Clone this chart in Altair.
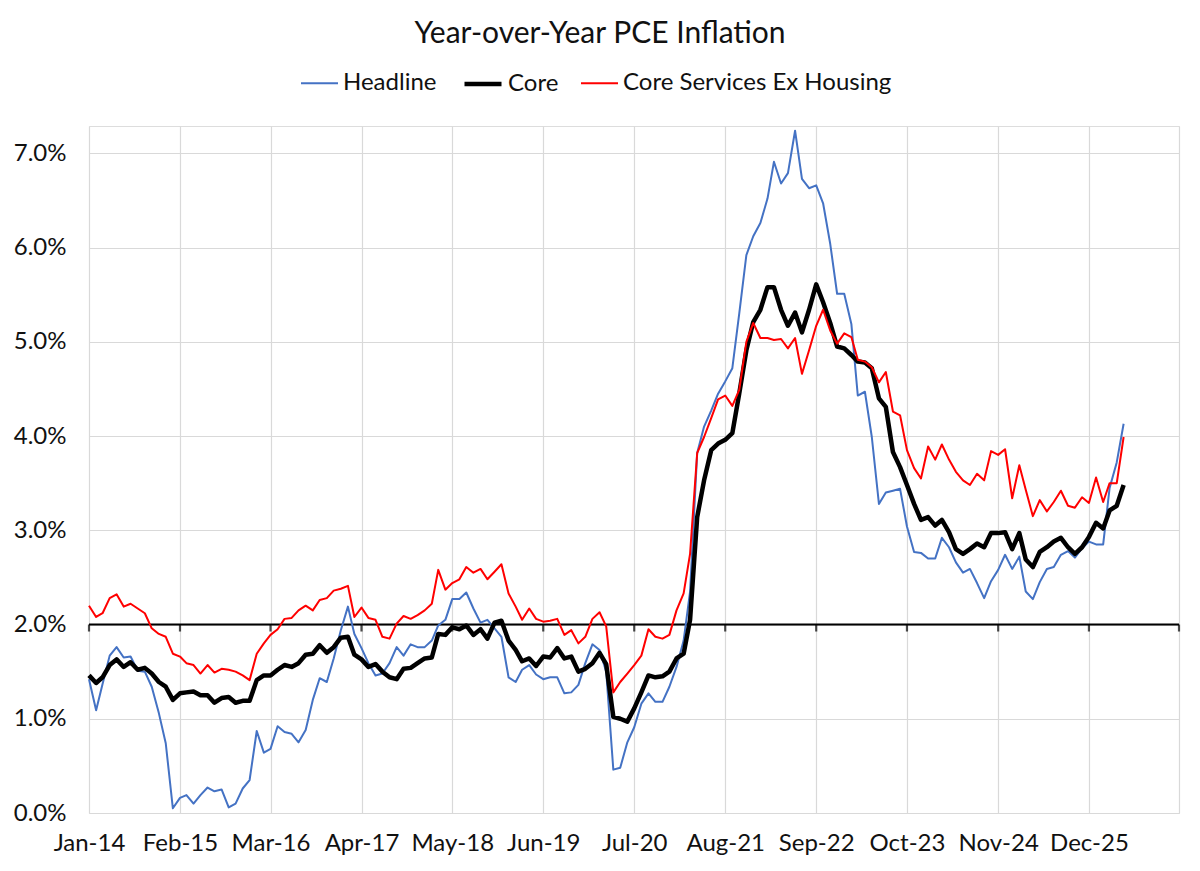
import altair as alt
import pandas as pd

# ---------------- data (percent, monthly from Jan-2014) ----------------
start_month = "2014-01-01"

headline = [
    1.42, 1.09, 1.37, 1.67, 1.76, 1.65, 1.66, 1.51, 1.50, 1.34,
    1.06, 0.74, 0.05, 0.16, 0.19, 0.10, 0.19, 0.27, 0.23, 0.25,
    0.06, 0.10, 0.26, 0.35, 0.87, 0.64, 0.68, 0.92, 0.86, 0.84,
    0.75, 0.88, 1.20, 1.43, 1.39, 1.64, 1.94, 2.19, 1.90, 1.75,
    1.59, 1.46, 1.48, 1.59, 1.76, 1.67, 1.79, 1.76, 1.76, 1.83,
    1.99, 2.05, 2.27, 2.27, 2.34, 2.17, 2.02, 2.05, 1.96, 1.87,
    1.44, 1.39, 1.52, 1.57, 1.47, 1.42, 1.44, 1.44, 1.27, 1.28,
    1.36, 1.59, 1.79, 1.73, 1.50, 0.46, 0.48, 0.75, 0.91, 1.16,
    1.27, 1.18, 1.18, 1.34, 1.55, 1.83, 2.35, 3.82, 4.10, 4.27,
    4.45, 4.58, 4.72, 5.30, 5.92, 6.12, 6.26, 6.52, 6.91, 6.68,
    6.79, 7.24, 6.73, 6.63, 6.66, 6.47, 6.04, 5.51, 5.51, 5.19,
    4.43, 4.47, 3.99, 3.28, 3.40, 3.42, 3.44, 3.04, 2.77, 2.76,
    2.70, 2.70, 2.92, 2.82, 2.66, 2.55, 2.59, 2.44, 2.28, 2.46,
    2.58, 2.74, 2.59, 2.72, 2.35, 2.27, 2.45, 2.59, 2.61, 2.74,
    2.78, 2.71, 2.81, 2.88, 2.85, 2.85, 3.45, 3.72, 4.13,
]

core = [
    1.46, 1.38, 1.44, 1.57, 1.63, 1.55, 1.60, 1.52, 1.54, 1.48,
    1.39, 1.34, 1.20, 1.27, 1.28, 1.29, 1.25, 1.25, 1.17, 1.22,
    1.23, 1.17, 1.19, 1.19, 1.41, 1.46, 1.46, 1.52, 1.57, 1.55,
    1.59, 1.68, 1.69, 1.78, 1.70, 1.76, 1.86, 1.87, 1.68, 1.63,
    1.55, 1.58, 1.50, 1.44, 1.42, 1.53, 1.54, 1.59, 1.64, 1.65,
    1.90, 1.89, 1.97, 1.95, 1.99, 1.89, 1.95, 1.85, 2.02, 2.04,
    1.83, 1.73, 1.61, 1.64, 1.56, 1.66, 1.65, 1.75, 1.64, 1.66,
    1.50, 1.53, 1.59, 1.70, 1.58, 1.02, 1.00, 0.97, 1.11, 1.28,
    1.46, 1.44, 1.45, 1.50, 1.64, 1.69, 2.05, 3.14, 3.53, 3.85,
    3.92, 3.96, 4.03, 4.45, 4.91, 5.21, 5.34, 5.58, 5.58, 5.34,
    5.17, 5.31, 5.10, 5.34, 5.61, 5.42, 5.20, 4.95, 4.93, 4.86,
    4.79, 4.78, 4.72, 4.40, 4.31, 3.83, 3.67, 3.48, 3.28, 3.11,
    3.14, 3.05, 3.11, 2.98, 2.80, 2.75, 2.80, 2.86, 2.82, 2.97,
    2.97, 2.98, 2.80, 2.97, 2.69, 2.61, 2.77, 2.82, 2.88, 2.92,
    2.82, 2.75, 2.82, 2.93, 3.08, 3.02, 3.21, 3.26, 3.48,
]

core_services_ex_housing = [
    2.20, 2.08, 2.12, 2.28, 2.32, 2.19, 2.22, 2.17, 2.12, 1.96,
    1.90, 1.87, 1.69, 1.66, 1.59, 1.57, 1.48, 1.57, 1.49, 1.53,
    1.52, 1.50, 1.46, 1.41, 1.69, 1.80, 1.89, 1.95, 2.06, 2.07,
    2.15, 2.20, 2.15, 2.26, 2.28, 2.36, 2.38, 2.41, 2.08, 2.18,
    2.07, 2.05, 1.87, 1.85, 2.01, 2.09, 2.06, 2.10, 2.15, 2.22,
    2.58, 2.37, 2.44, 2.48, 2.61, 2.55, 2.59, 2.48, 2.56, 2.64,
    2.33, 2.19, 2.05, 2.17, 2.06, 2.03, 2.04, 2.06, 1.89, 1.94,
    1.80, 1.87, 2.06, 2.13, 1.98, 1.28, 1.39, 1.48, 1.57, 1.67,
    1.95, 1.87, 1.85, 1.89, 2.15, 2.33, 2.75, 3.82, 3.99, 4.19,
    4.39, 4.43, 4.32, 4.49, 5.00, 5.20, 5.04, 5.04, 5.02, 5.03,
    4.93, 5.04, 4.66, 4.91, 5.17, 5.34, 5.12, 4.98, 5.09, 5.05,
    4.81, 4.79, 4.73, 4.57, 4.68, 4.26, 4.22, 3.85, 3.66, 3.55,
    3.89, 3.75, 3.91, 3.75, 3.62, 3.53, 3.48, 3.60, 3.53, 3.84,
    3.80, 3.86, 3.34, 3.69, 3.43, 3.15, 3.32, 3.20, 3.30, 3.42,
    3.26, 3.24, 3.35, 3.29, 3.56, 3.30, 3.50, 3.50, 3.99,
]

series_names = ["Headline", "Core", "Core Services Ex Housing"]
series_colors = ["#4472C4", "#000000", "#FF0000"]
series_widths = [2, 4.5, 2]

tick_dates = ["2014-01-01", "2015-02-01", "2016-03-01", "2017-04-01",
              "2018-05-01", "2019-06-01", "2020-07-01", "2021-08-01",
              "2022-09-01", "2023-10-01", "2024-11-01", "2025-12-01"]
axis_end = "2026-12-28"
y_ticks = [0, 1, 2, 3, 4, 5, 6, 7]
y_max = 7.29
ref_level = 2.0

title_text = "Year-over-Year PCE Inflation"
FONT = "Lato"

# ---------------- tables ----------------
dates = pd.date_range(start_month, periods=len(headline), freq="MS").strftime("%Y-%m-%d")
wide = pd.DataFrame({
    "date": dates,
    "Headline": headline,
    "Core": core,
    "Core Services Ex Housing": core_services_ex_housing,
})
long = wide.melt(id_vars="date", var_name="series", value_name="value")


def ms(s):
    return int(pd.Timestamp(s, tz="UTC").timestamp() * 1000)


tick_ms = [ms(d) for d in tick_dates]
end_ms = ms(axis_end)
start_ms = ms(start_month)

ticks_df = pd.DataFrame({"date": tick_dates + [axis_end]})

GRID = "#d9d9d9"

x_scale = alt.Scale(type="utc", domain=[start_ms, end_ms], nice=False)
y_scale = alt.Scale(domain=[0, y_max], nice=False, zero=True)

x_axis = alt.Axis(
    values=tick_ms + [end_ms],
    labelExpr=f"datum.value > {tick_ms[-1]} ? '' : utcFormat(datum.value, '%b-%y')",
    title=None, domain=False, ticks=False, grid=True,
    gridColor=GRID, gridWidth=1.2,
    labelFont=FONT, labelFontSize=24, labelColor="#111111",
    labelPadding=18, labelOverlap=False, labelFlush=False, labelBound=False,
)
y_axis = alt.Axis(
    values=y_ticks,
    labelExpr="format(datum.value, '.1f') + '%'",
    title=None, domain=False, ticks=False, grid=True,
    gridColor=GRID, gridWidth=1.2,
    labelFont=FONT, labelFontSize=24, labelColor="#111111",
    labelPadding=23,
)

legend = alt.Legend(
    orient="none", legendX=211, legendY=-63, direction="horizontal",
    title=None, labelFont=FONT, labelFontSize=24, labelColor="#111111",
    labelLimit=500, symbolType="stroke", symbolSize=37 * 37,
    columnPadding=18, labelOffset=4,
)

color_enc = alt.Color("series:N", scale=alt.Scale(domain=series_names, range=series_colors),
                      legend=legend)
width_enc = alt.StrokeWidth("series:N",
                            scale=alt.Scale(type="ordinal", domain=series_names, range=series_widths),
                            legend=legend)

ref_rule = alt.Chart(pd.DataFrame({"level": [ref_level]})).mark_rule(
    color="black", strokeWidth=2
).encode(
    y=alt.Y("level:Q", scale=y_scale, axis=y_axis),
)

ref_ticks = alt.Chart(ticks_df).mark_tick(
    orient="vertical", color="black", size=7, thickness=2.2, yOffset=3.5
).encode(
    x=alt.X("date:T", scale=x_scale, axis=x_axis),
    y=alt.datum(ref_level),
)

layers = [ref_rule, ref_ticks]
for name in series_names:
    layers.append(
        alt.Chart(long).transform_filter(alt.datum.series == name).mark_line(
            strokeJoin="round", strokeCap="butt"
        ).encode(
            x=alt.X("date:T", scale=x_scale, axis=x_axis),
            y=alt.Y("value:Q", scale=y_scale, axis=y_axis),
            color=color_enc,
            strokeWidth=width_enc,
        )
    )

chart = alt.layer(*layers).properties(
    width=1090,
    height=687,
    title=alt.TitleParams(title_text, font=FONT, fontSize=30, fontWeight="normal",
                          color="#111111", anchor="middle", offset=14, dx=-34),
    padding={"left": 81, "top": 118, "right": 13, "bottom": 50},
    autosize=alt.AutoSizeParams(type="none"),
).configure_view(stroke=None).configure(background="white")

chart.save("out.html", embed_options={"renderer": "svg", "actions": False})
